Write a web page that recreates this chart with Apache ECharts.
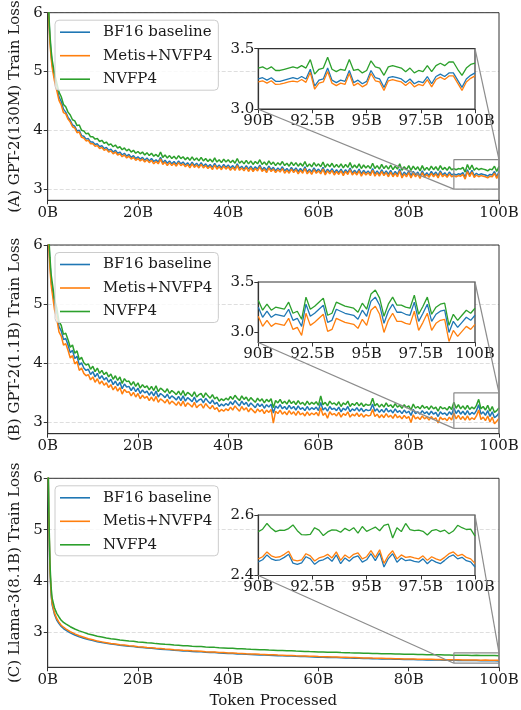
<!DOCTYPE html>
<html><head><meta charset="utf-8">
<script src="https://cdn.jsdelivr.net/npm/echarts@6/dist/echarts.min.js"></script>
<style>html,body{margin:0;padding:0;background:#fff}#c{width:521px;height:710px}</style>
</head><body><div id="c"></div>
<script>
// ---- data ----
const seriesNames = ['BF16 baseline', 'Metis+NVFP4', 'NVFP4'];
// token positions (billions) for panels A and B
const tokensAB = [0,0.25,0.5,0.75,1,1.5,2,2.5,3,3.5,
4,4.5,5,5.5,6,6.5,7,7.5,8,8.5, 9,9.5,10,10.5,11,11.5,12,12.5,13,13.5,
14,14.5,15,15.5,16,16.5,17,17.5,18,18.5, 19,19.5,20,20.5,21,21.5,22,22.5,23,23.5,
24,24.5,25,25.5,26,26.5,27,27.5,28,28.5, 29,29.5,30,30.5,31,31.5,32,32.5,33,33.5,
34,34.5,35,35.5,36,36.5,37,37.5,38,38.5, 39,39.5,40,40.5,41,41.5,42,42.5,43,43.5,
44,44.5,45,45.5,46,46.5,47,47.5,48,48.5, 49,49.5,50,50.5,51,51.5,52,52.5,53,53.5,
54,54.5,55,55.5,56,56.5,57,57.5,58,58.5, 59,59.5,60,60.5,61,61.5,62,62.5,63,63.5,
64,64.5,65,65.5,66,66.5,67,67.5,68,68.5, 69,69.5,70,70.5,71,71.5,72,72.5,73,73.5,
74,74.5,75,75.5,76,76.5,77,77.5,78,78.5, 79,79.5,80,80.5,81,81.5,82,82.5,83,83.5,
84,84.5,85,85.5,86,86.5,87,87.5,88,88.5, 89,89.5,90,90.5,91,91.5,92,92.5,93,93.5,
94,94.5,95,95.5,96,96.5,97,97.5,98,98.5, 99,99.5,100];
// token positions for panel C
const tokensC = [0,0.25,0.5,0.75,1,1.5,2,2.5,3,3.5,
4,5,6,7,8,9,10,11,12,13,14,15,16,17,18,19,20,21,22,23,24,25,26,27,28,29,30,31,32,33,
34,35,36,37,38,39,40,41,42,43,44,45,46,47,48,49,50,51,52,53,54,55,56,57,58,59,60,61,62,63,
64,65,66,67,68,69,70,71,72,73,74,75,76,77,78,79,80,81,82,83,84,85,86,87,88,89,90,91,92,93,
94,95,96,97,98,99,100];
const insetTokens = [90,90.2,90.4,90.6,90.8,91,91.2,91.4,91.6,91.8,92,92.2,92.4,92.6,92.8,93,93.2,93.4,93.6,93.8,
94,94.2,94.4,94.6,94.8,95,95.2,95.4,95.6,95.8,96,96.2,96.4,96.6,96.8,97,97.2,97.4,97.6,97.8,
98,98.2,98.4,98.6,98.8,99,99.2,99.4,99.6,99.8,100];
const xTickLabels = ['0B','20B','40B','60B','80B','100B'];
const mainYTicks = [3,4,5,6];

// (A) GPT-2(130M)
const a_bf16 = [6.60,5.92,5.55,5.30,5.12,4.90,4.74,4.57,4.49,4.36,
4.31,4.22,4.17,4.09,4.07,3.99,4.00,3.91,3.90,3.85,
3.86,3.80,3.80,3.76,3.77,3.72,3.74,3.69,3.71,3.66,
3.68,3.63,3.66,3.61,3.63,3.58,3.61,3.56,3.59,3.54,
3.57,3.52,3.55,3.51,3.54,3.49,3.53,3.48,3.52,3.47,
3.50,3.46,3.54,3.45,3.49,3.44,3.48,3.43,3.47,3.42,
3.48,3.43,3.46,3.41,3.45,3.40,3.46,3.40,3.44,3.39,
3.45,3.39,3.43,3.38,3.42,3.37,3.44,3.37,3.41,3.36,
3.42,3.37,3.41,3.36,3.40,3.35,3.43,3.35,3.39,3.34,
3.40,3.34,3.39,3.33,3.38,3.34,3.41,3.33,3.37,3.32,
3.39,3.33,3.37,3.31,3.36,3.32,3.38,3.31,3.35,3.30,
3.37,3.31,3.36,3.30,3.35,3.30,3.38,3.29,3.34,3.29,
3.36,3.30,3.34,3.29,3.37,3.28,3.34,3.29,3.35,3.28,
3.33,3.28,3.34,3.27,3.33,3.28,3.36,3.27,3.32,3.27,
3.34,3.26,3.32,3.27,3.31,3.26,3.35,3.26,3.31,3.25,
3.33,3.26,3.31,3.25,3.32,3.24,3.30,3.25,3.34,3.23,
3.29,3.24,3.31,3.23,3.30,3.24,3.29,3.22,3.31,3.23,
3.28,3.23,3.30,3.24,3.29,3.23,3.31,3.24,3.28,3.23,
3.29,3.24,3.26,3.24,3.26,3.25,3.28,3.20,3.33,3.24,
3.32,3.23,3.27,3.24,3.26,3.25,3.24,3.22,3.25,3.24,
3.30,3.21,3.30];
const a_metis = [6.55,5.86,5.49,5.24,5.06,4.84,4.68,4.51,4.43,4.30,
4.28,4.19,4.14,4.06,4.04,3.96,3.97,3.88,3.87,3.82,
3.83,3.77,3.77,3.73,3.74,3.69,3.71,3.66,3.68,3.63,
3.65,3.60,3.63,3.58,3.60,3.55,3.58,3.53,3.56,3.51,
3.54,3.49,3.52,3.48,3.51,3.46,3.50,3.45,3.49,3.43,
3.47,3.43,3.51,3.42,3.46,3.40,3.45,3.40,3.44,3.39,
3.45,3.40,3.43,3.38,3.42,3.36,3.43,3.37,3.41,3.36,
3.42,3.36,3.40,3.35,3.39,3.33,3.41,3.34,3.38,3.33,
3.39,3.34,3.38,3.32,3.37,3.32,3.40,3.32,3.36,3.31,
3.37,3.30,3.36,3.30,3.35,3.31,3.38,3.30,3.34,3.28,
3.36,3.30,3.34,3.28,3.33,3.29,3.35,3.27,3.32,3.27,
3.34,3.28,3.33,3.26,3.32,3.27,3.35,3.26,3.31,3.25,
3.33,3.27,3.31,3.26,3.34,3.24,3.31,3.26,3.32,3.24,
3.30,3.25,3.31,3.23,3.30,3.25,3.33,3.24,3.29,3.24,
3.31,3.22,3.29,3.24,3.28,3.23,3.32,3.22,3.28,3.22,
3.30,3.23,3.28,3.21,3.29,3.21,3.27,3.21,3.31,3.19,
3.26,3.21,3.28,3.19,3.27,3.21,3.26,3.18,3.28,3.20,
3.25,3.20,3.27,3.21,3.26,3.19,3.28,3.21,3.25,3.20,
3.26,3.21,3.23,3.21,3.23,3.22,3.25,3.17,3.30,3.21,
3.29,3.20,3.24,3.21,3.23,3.22,3.21,3.19,3.22,3.21,
3.27,3.18,3.27];
const a_nvfp4 = [6.65,5.98,5.62,5.37,5.19,4.97,4.81,4.65,4.57,4.44,
4.40,4.31,4.26,4.18,4.16,4.08,4.09,4.00,3.99,3.94,
3.95,3.89,3.89,3.85,3.86,3.81,3.83,3.78,3.80,3.75,
3.77,3.72,3.75,3.70,3.72,3.67,3.70,3.65,3.68,3.63,
3.66,3.61,3.64,3.60,3.63,3.58,3.62,3.57,3.61,3.56,
3.59,3.55,3.63,3.54,3.58,3.53,3.57,3.52,3.56,3.51,
3.57,3.52,3.55,3.50,3.54,3.49,3.55,3.49,3.53,3.48,
3.54,3.48,3.52,3.47,3.51,3.46,3.53,3.46,3.50,3.45,
3.51,3.46,3.50,3.45,3.49,3.44,3.52,3.44,3.48,3.43,
3.49,3.43,3.48,3.42,3.47,3.43,3.50,3.42,3.46,3.41,
3.48,3.42,3.46,3.40,3.45,3.41,3.47,3.40,3.44,3.39,
3.46,3.40,3.45,3.39,3.44,3.39,3.47,3.38,3.43,3.38,
3.45,3.39,3.43,3.38,3.46,3.37,3.43,3.38,3.44,3.37,
3.42,3.37,3.43,3.36,3.42,3.37,3.45,3.36,3.41,3.36,
3.43,3.35,3.41,3.36,3.40,3.35,3.44,3.35,3.40,3.34,
3.42,3.35,3.40,3.34,3.41,3.33,3.39,3.34,3.43,3.32,
3.38,3.33,3.40,3.32,3.39,3.33,3.38,3.31,3.40,3.32,
3.37,3.32,3.39,3.33,3.38,3.32,3.40,3.33,3.37,3.32,
3.38,3.33,3.35,3.33,3.35,3.34,3.37,3.29,3.42,3.33,
3.41,3.32,3.36,3.33,3.35,3.34,3.33,3.31,3.34,3.33,
3.39,3.30,3.39];
const a_inset_bf16 = [3.25,3.26,3.24,3.26,3.23,3.23,3.24,3.25,3.26,3.25,3.27,3.25,3.33,3.19,3.24,3.25,3.34,3.24,3.22,3.24,
3.23,3.32,3.22,3.24,3.21,3.23,3.32,3.26,3.25,3.18,3.26,3.27,3.26,3.25,3.22,3.25,3.21,3.23,3.22,3.27,
3.21,3.27,3.29,3.27,3.30,3.30,3.24,3.18,3.25,3.28,3.30];
const a_inset_metis = [3.225,3.235,3.215,3.235,3.205,3.208,3.215,3.225,3.232,3.225,3.245,3.222,3.305,3.165,3.215,3.225,3.312,3.215,3.195,3.215,
3.205,3.295,3.195,3.215,3.185,3.205,3.295,3.235,3.225,3.155,3.235,3.245,3.235,3.225,3.195,3.225,3.185,3.205,3.195,3.245,
3.185,3.245,3.265,3.245,3.275,3.275,3.215,3.155,3.225,3.255,3.275];
const a_inset_nvfp4 = [3.34,3.35,3.33,3.35,3.32,3.32,3.33,3.34,3.35,3.34,3.36,3.34,3.41,3.29,3.33,3.34,3.43,3.33,3.31,3.33,
3.32,3.41,3.32,3.33,3.30,3.32,3.40,3.35,3.34,3.28,3.35,3.36,3.35,3.34,3.31,3.34,3.30,3.32,3.31,3.36,
3.31,3.36,3.38,3.36,3.39,3.39,3.33,3.28,3.34,3.37,3.38];

// (B) GPT-2(1.1B)
const b_bf16 = [6.70,6.05,5.70,5.42,5.28,5.00,4.85,4.62,4.55,4.40,
4.42,4.31,4.18,4.22,4.08,4.12,3.97,4.01,3.92,3.88,
3.90,3.81,3.86,3.77,3.83,3.74,3.79,3.72,3.76,3.68,
3.73,3.64,3.70,3.62,3.68,3.57,3.65,3.60,3.61,3.54,
3.60,3.52,3.58,3.49,3.55,3.50,3.53,3.46,3.52,3.45,
3.53,3.43,3.49,3.46,3.42,3.48,3.40,3.45,3.42,3.38,
3.44,3.37,3.45,3.36,3.42,3.39,3.35,3.43,3.34,3.38,
3.40,3.33,3.41,3.36,3.32,3.38,3.31,3.34,3.27,3.31,
3.28,3.32,3.29,3.35,3.30,3.37,3.32,3.28,3.36,3.30,
3.34,3.27,3.33,3.29,3.25,3.32,3.27,3.31,3.24,3.30,
3.26,3.31,3.16,3.28,3.24,3.30,3.23,3.27,3.22,3.29,
3.23,3.27,3.21,3.28,3.22,3.25,3.20,3.27,3.21,3.25,
3.22,3.26,3.20,3.34,3.21,3.25,3.19,3.27,3.22,3.24,
3.20,3.26,3.18,3.24,3.21,3.27,3.18,3.23,3.20,3.25,
3.19,3.24,3.18,3.22,3.20,3.21,3.31,3.19,3.23,3.17,
3.22,3.17,3.24,3.18,3.21,3.16,3.23,3.17,3.20,3.15,
3.21,3.16,3.19,3.12,3.22,3.15,3.18,3.14,3.20,3.15,
3.18,3.13,3.19,3.14,3.17,3.10,3.18,3.14,3.16,3.12,
3.18,3.13,3.25,3.15,3.21,3.14,3.19,3.13,3.20,3.13,
3.17,3.14,3.20,3.30,3.14,3.18,3.12,3.20,3.10,3.18,
3.08,3.11,3.16];
const b_metis = [6.62,5.96,5.61,5.33,5.19,4.91,4.76,4.53,4.46,4.31,
4.33,4.22,4.09,4.13,3.99,4.03,3.88,3.92,3.83,3.79,
3.81,3.72,3.77,3.68,3.74,3.65,3.70,3.63,3.67,3.59,
3.64,3.55,3.61,3.53,3.59,3.48,3.56,3.51,3.52,3.45,
3.51,3.43,3.49,3.40,3.46,3.41,3.44,3.37,3.43,3.36,
3.44,3.34,3.40,3.37,3.33,3.39,3.31,3.36,3.33,3.29,
3.35,3.28,3.36,3.27,3.33,3.30,3.26,3.34,3.25,3.29,
3.31,3.24,3.32,3.27,3.23,3.29,3.22,3.25,3.18,3.22,
3.19,3.23,3.20,3.26,3.21,3.28,3.23,3.19,3.27,3.21,
3.25,3.18,3.24,3.20,3.16,3.23,3.18,3.22,3.15,3.21,
3.17,3.22,2.99,3.19,3.15,3.21,3.14,3.18,3.13,3.20,
3.14,3.18,3.12,3.19,3.13,3.16,3.11,3.18,3.12,3.16,
3.13,3.17,3.11,3.25,3.12,3.16,3.07,3.18,3.13,3.15,
3.11,3.17,3.09,3.15,3.12,3.18,3.09,3.14,3.11,3.16,
3.10,3.15,3.09,3.13,3.11,3.12,3.22,3.10,3.14,3.08,
3.13,3.08,3.15,3.09,3.12,3.07,3.14,3.08,3.11,3.06,
3.12,3.07,3.10,3.00,3.13,3.06,3.09,3.05,3.11,3.06,
3.09,3.04,3.10,3.05,3.08,2.99,3.09,3.05,3.07,3.03,
3.09,3.04,3.16,3.06,3.12,3.05,3.10,3.04,3.11,3.04,
3.08,3.05,3.11,3.21,3.05,3.09,3.03,3.11,3.01,3.09,
2.98,3.02,3.07];
const b_nvfp4 = [6.78,6.14,5.79,5.51,5.37,5.09,4.94,4.71,4.64,4.49,
4.51,4.40,4.27,4.31,4.17,4.21,4.06,4.10,4.01,3.97,
3.99,3.90,3.95,3.86,3.92,3.83,3.88,3.81,3.85,3.77,
3.82,3.73,3.79,3.71,3.77,3.66,3.74,3.69,3.70,3.63,
3.69,3.61,3.67,3.58,3.64,3.59,3.62,3.55,3.61,3.54,
3.62,3.52,3.58,3.55,3.51,3.57,3.49,3.54,3.51,3.47,
3.53,3.46,3.54,3.45,3.51,3.48,3.44,3.52,3.43,3.47,
3.49,3.42,3.50,3.45,3.41,3.47,3.40,3.43,3.36,3.40,
3.37,3.41,3.38,3.44,3.39,3.46,3.41,3.37,3.45,3.39,
3.43,3.36,3.42,3.38,3.34,3.41,3.36,3.40,3.33,3.39,
3.35,3.40,3.25,3.37,3.33,3.39,3.32,3.36,3.31,3.38,
3.32,3.36,3.30,3.37,3.31,3.34,3.29,3.36,3.30,3.34,
3.31,3.35,3.29,3.45,3.30,3.34,3.28,3.36,3.31,3.33,
3.29,3.35,3.27,3.33,3.30,3.36,3.27,3.32,3.29,3.34,
3.28,3.33,3.27,3.31,3.29,3.30,3.41,3.28,3.32,3.26,
3.31,3.26,3.33,3.27,3.30,3.25,3.32,3.26,3.29,3.24,
3.30,3.25,3.28,3.21,3.31,3.24,3.27,3.23,3.29,3.24,
3.27,3.22,3.28,3.23,3.26,3.19,3.27,3.23,3.25,3.21,
3.27,3.22,3.34,3.24,3.30,3.23,3.28,3.22,3.29,3.22,
3.26,3.23,3.29,3.39,3.23,3.27,3.21,3.29,3.19,3.27,
3.17,3.20,3.25];
const b_inset_bf16 = [3.25,3.15,3.21,3.15,3.18,3.17,3.16,3.23,3.12,3.14,3.06,3.28,3.16,3.19,3.23,3.27,3.10,3.12,3.23,3.21,
3.19,3.18,3.17,3.13,3.22,3.16,3.31,3.35,3.27,3.09,3.21,3.28,3.20,3.20,3.18,3.17,3.30,3.11,3.19,3.28,
3.11,3.18,3.21,3.22,3.00,3.11,3.05,3.10,3.15,3.12,3.17];
const b_inset_metis = [3.16,3.06,3.12,3.06,3.09,3.08,3.07,3.14,3.03,3.05,2.97,3.19,3.07,3.10,3.14,3.18,3.01,3.03,3.14,3.12,
3.10,3.09,3.08,3.04,3.13,3.07,3.22,3.26,3.18,3.00,3.12,3.19,3.11,3.11,3.09,3.08,3.21,3.02,3.10,3.19,
3.02,3.09,3.12,3.13,2.91,3.02,2.96,3.01,3.06,3.03,3.08];
const b_inset_nvfp4 = [3.32,3.22,3.28,3.22,3.25,3.24,3.23,3.30,3.19,3.21,3.13,3.35,3.23,3.26,3.30,3.34,3.17,3.19,3.30,3.28,
3.26,3.25,3.24,3.20,3.29,3.23,3.38,3.42,3.34,3.16,3.28,3.35,3.27,3.27,3.25,3.24,3.37,3.18,3.26,3.35,
3.18,3.25,3.28,3.29,3.07,3.18,3.12,3.17,3.22,3.19,3.24];

// (C) Llama-3(8.1B)
const c_bf16 = [6.88,5.20,4.20,3.74,3.53,3.35,3.24,3.17,3.115,3.075,
3.045,2.99,2.948,2.915,2.887,2.86,2.84,2.818,2.803,2.789,
2.774,2.764,2.749,2.741,2.729,2.724,2.711,2.704,2.694,2.689,
2.679,2.673,2.665,2.661,2.651,2.647,2.639,2.636,2.629,2.625,
2.621,2.613,2.609,2.606,2.599,2.595,2.589,2.587,2.581,2.579,
2.573,2.569,2.566,2.561,2.559,2.554,2.551,2.547,2.545,2.54,
2.538,2.533,2.531,2.528,2.524,2.522,2.518,2.516,2.513,2.51,
2.509,2.505,2.503,2.50,2.498,2.496,2.492,2.491,2.488,2.486,
2.484,2.481,2.48,2.477,2.476,2.473,2.472,2.47,2.468,2.467,
2.464,2.464,2.461,2.46,2.458,2.457,2.455,2.454,2.452,2.453,
2.45,2.451,2.448,2.449,2.447,2.448,2.444];
const c_metis = [6.90,5.25,4.25,3.78,3.56,3.38,3.27,3.20,3.14,3.10,
3.07,3.015,2.97,2.935,2.905,2.875,2.855,2.83,2.815,2.80,
2.785,2.775,2.76,2.752,2.74,2.735,2.722,2.715,2.705,2.70,
2.69,2.684,2.676,2.672,2.662,2.658,2.65,2.647,2.64,2.636,
2.632,2.624,2.62,2.617,2.61,2.606,2.60,2.598,2.592,2.59,
2.584,2.58,2.577,2.572,2.57,2.565,2.562,2.558,2.556,2.551,
2.549,2.544,2.542,2.539,2.535,2.533,2.529,2.527,2.524,2.521,
2.52,2.516,2.514,2.511,2.509,2.507,2.503,2.502,2.499,2.497,
2.495,2.492,2.491,2.488,2.487,2.484,2.483,2.481,2.479,2.478,
2.475,2.475,2.472,2.471,2.469,2.468,2.466,2.465,2.463,2.464,
2.461,2.462,2.459,2.46,2.458,2.459,2.455];
const c_nvfp4 = [6.95,5.35,4.35,3.88,3.66,3.48,3.37,3.30,3.235,3.195,
3.165,3.11,3.065,3.03,3.00,2.97,2.948,2.923,2.908,2.892,
2.878,2.866,2.853,2.843,2.832,2.826,2.813,2.806,2.796,2.791,
2.781,2.776,2.767,2.763,2.753,2.749,2.741,2.738,2.731,2.727,
2.723,2.715,2.711,2.708,2.701,2.697,2.691,2.689,2.683,2.681,
2.675,2.671,2.668,2.663,2.661,2.656,2.653,2.649,2.647,2.642,
2.64,2.635,2.633,2.63,2.626,2.624,2.62,2.618,2.615,2.612,
2.611,2.607,2.605,2.602,2.60,2.598,2.594,2.593,2.59,2.588,
2.586,2.583,2.582,2.579,2.578,2.575,2.574,2.572,2.57,2.569,
2.566,2.566,2.563,2.562,2.56,2.559,2.557,2.556,2.554,2.555,
2.552,2.553,2.55,2.551,2.549,2.55,2.546];
const c_inset_bf16 = [2.445,2.452,2.468,2.455,2.450,2.452,2.460,2.470,2.441,2.437,2.442,2.462,2.455,2.437,2.448,2.452,2.460,2.447,2.468,2.439,
2.458,2.447,2.460,2.465,2.444,2.452,2.472,2.449,2.475,2.428,2.456,2.472,2.444,2.458,2.449,2.452,2.447,2.444,2.455,2.439,
2.452,2.444,2.439,2.450,2.462,2.468,2.455,2.460,2.449,2.445,2.428];
const c_inset_metis = [2.455,2.462,2.478,2.465,2.460,2.462,2.470,2.480,2.452,2.448,2.452,2.472,2.465,2.448,2.458,2.462,2.470,2.458,2.478,2.450,
2.468,2.458,2.470,2.475,2.455,2.462,2.482,2.460,2.485,2.440,2.466,2.482,2.455,2.468,2.460,2.462,2.458,2.455,2.465,2.450,
2.462,2.455,2.450,2.460,2.472,2.478,2.465,2.470,2.460,2.455,2.440];
const c_inset_nvfp4 = [2.545,2.553,2.572,2.556,2.545,2.550,2.549,2.555,2.567,2.548,2.535,2.534,2.536,2.558,2.550,2.532,2.544,2.551,2.550,2.543,
2.556,2.548,2.558,2.540,2.562,2.546,2.553,2.560,2.548,2.566,2.570,2.524,2.558,2.545,2.572,2.552,2.548,2.550,2.546,2.534,
2.548,2.552,2.545,2.550,2.538,2.547,2.566,2.558,2.552,2.553,2.530];

// ---- layout / style ----
const FONT = 'DejaVu Serif';
const TXT = '#1a1a1a';
const FRAME = '#333333';
const COLORS = ['#1f77b4', '#ff7f0e', '#2ca02c'];
const panels = [
  { label: '(A) GPT-2(130M) Train Loss', top: 12.7, height: 187.6, yMin: 2.81, yMax: 6,
    insetTop: 48.7, insetY: [3.0, 3.5], insetTicks: [3.0, 3.5], tokens: tokensAB,
    main: [a_bf16, a_metis, a_nvfp4], inset: [a_inset_bf16, a_inset_metis, a_inset_nvfp4] },
  { label: '(B) GPT-2(1.1B) Train Loss', top: 245, height: 188.7, yMin: 2.81, yMax: 6,
    insetTop: 282, insetY: [2.9, 3.5], insetTicks: [3.0, 3.5], tokens: tokensAB,
    main: [b_bf16, b_metis, b_nvfp4], inset: [b_inset_bf16, b_inset_metis, b_inset_nvfp4] },
  { label: '(C) Llama-3(8.1B) Train Loss', top: 478.3, height: 189, yMin: 2.32, yMax: 6,
    insetTop: 515, insetY: [2.4, 2.6], insetTicks: [2.4, 2.6], tokens: tokensC,
    main: [c_bf16, c_metis, c_nvfp4], inset: [c_inset_bf16, c_inset_metis, c_inset_nvfp4] }
];
const MAIN_LEFT = 47.7, MAIN_W = 451.3;
const INSET_LEFT = 258.3, INSET_W = 216.7, INSET_H = 60.5;

const zip = (xs, ys) => xs.map((x, i) => [x, ys[i]]);
const labelStyle = { fontFamily: FONT, fontSize: 15, color: TXT };

const grid = [], xAxis = [], yAxis = [], series = [], legend = [];
panels.forEach((p, pi) => {
  const gMain = pi * 2, gIn = pi * 2 + 1;
  grid.push({ left: MAIN_LEFT, top: p.top, width: MAIN_W, height: p.height, show: true,
    borderColor: FRAME, borderWidth: 1, backgroundColor: 'transparent', outerBoundsMode: 'none', containLabel: false, z: 1 });
  grid.push({ left: INSET_LEFT, top: p.insetTop, width: INSET_W, height: INSET_H, show: true,
    borderColor: FRAME, borderWidth: 1.2, backgroundColor: '#ffffff', outerBoundsMode: 'none', containLabel: false, z: 1 });

  xAxis.push(Object.assign({
    type: 'value', gridIndex: gMain, min: 0, max: 100, interval: 20,
    axisLine: { show: true, onZero: false, lineStyle: { color: FRAME, width: 1 } },
    axisTick: { show: true, length: 4, lineStyle: { color: FRAME } },
    axisLabel: Object.assign({ margin: 5, formatter: v => xTickLabels[Math.round(v / 20)] }, labelStyle),
    splitLine: { show: false }
  }, pi === 2 ? { name: 'Token Processed', nameLocation: 'middle', nameGap: 26,
    nameTextStyle: labelStyle } : {}));
  xAxis.push({
    type: 'value', gridIndex: gIn, min: 90, max: 100, interval: 2.5, z: 2,
    axisLine: { show: true, onZero: false, lineStyle: { color: FRAME, width: 1.2 } },
    axisTick: { show: true, length: 4, lineStyle: { color: FRAME } },
    axisLabel: Object.assign({ margin: 4, formatter: v => v + 'B' }, labelStyle),
    splitLine: { show: false }
  });
  yAxis.push({
    type: 'value', gridIndex: gMain, min: p.yMin, max: p.yMax,
    axisLine: { show: true, onZero: false, lineStyle: { color: FRAME, width: 1 } },
    axisTick: { show: true, length: 4, customValues: mainYTicks, lineStyle: { color: FRAME } },
    axisLabel: Object.assign({ margin: 5, customValues: mainYTicks, formatter: v => String(Math.round(v)) }, labelStyle),
    splitLine: { show: true, lineStyle: { color: '#dedede', width: 1, type: [4, 2] } },
    name: p.label, nameLocation: 'middle', nameRotate: 90, nameGap: 23, nameTextStyle: labelStyle
  });
  yAxis.push({
    type: 'value', gridIndex: gIn, min: p.insetY[0], max: p.insetY[1], z: 2,
    axisLine: { show: true, onZero: false, lineStyle: { color: FRAME, width: 1.2 } },
    axisTick: { show: true, length: 4, customValues: p.insetTicks, lineStyle: { color: FRAME } },
    axisLabel: Object.assign({ margin: 4, customValues: p.insetTicks, formatter: v => v.toFixed(1) }, labelStyle),
    splitLine: { show: false }
  });

  seriesNames.forEach((nm, si) => {
    series.push({ type: 'line', name: nm, xAxisIndex: gMain, yAxisIndex: gMain,
      data: zip(p.tokens, p.main[si]), symbol: 'none', showSymbol: false, clip: true,
      lineStyle: { color: COLORS[si], width: 1.5 }, itemStyle: { color: COLORS[si] }, z: 2 });
  });
  seriesNames.forEach((nm, si) => {
    series.push({ type: 'line', name: nm, xAxisIndex: gIn, yAxisIndex: gIn,
      data: zip(insetTokens, p.inset[si]), symbol: 'none', showSymbol: false, clip: true,
      lineStyle: { color: COLORS[si], width: 1.3 }, itemStyle: { color: COLORS[si] }, z: 3 });
  });
  // zoom rectangle in main axes (inset range)
  const x0 = insetTokens[0], x1 = insetTokens[insetTokens.length - 1];
  series.push({ type: 'line', name: 'zoom' + pi, xAxisIndex: gMain, yAxisIndex: gMain, silent: true,
    data: [[x0, p.insetY[0]], [x1, p.insetY[0]], [x1, p.insetY[1]], [x0, p.insetY[1]], [x0, p.insetY[0]]],
    symbol: 'none', clip: false, lineStyle: { color: '#8c8c8c', width: 1.2 }, z: 4 });

  legend.push({
    orient: 'vertical', left: 55, top: p.top + 7.5, data: seriesNames, selectedMode: false,
    icon: 'rect', itemWidth: 30, itemHeight: 1.6, itemGap: 5.5, padding: [3, 6, 2, 5],
    backgroundColor: 'rgba(255,255,255,0.8)', borderColor: '#cccccc', borderWidth: 1, borderRadius: 4,
    textStyle: { fontFamily: FONT, fontSize: 15, color: TXT, lineHeight: 18, padding: [0, 0, 0, 8] }, z: 5
  });
});

const chart = echarts.init(document.getElementById('c'), null, { renderer: 'canvas' });
chart.setOption({ animation: false, backgroundColor: '#ffffff', grid, xAxis, yAxis, series, legend });

// connector lines between inset and zoom rectangle
const graphics = [];
panels.forEach((p, pi) => {
  const gMain = pi * 2, gIn = pi * 2 + 1;
  const x0 = insetTokens[0], x1 = insetTokens[insetTokens.length - 1];
  const a1 = chart.convertToPixel({ gridIndex: gIn }, [x0, p.insetY[0]]);
  const a2 = chart.convertToPixel({ gridIndex: gMain }, [x0, p.insetY[0]]);
  const b1 = chart.convertToPixel({ gridIndex: gIn }, [x1, p.insetY[1]]);
  const b2 = chart.convertToPixel({ gridIndex: gMain }, [x1, p.insetY[1]]);
  [[a1, a2], [b1, b2]].forEach(([s, e]) => graphics.push({ type: 'line', silent: true, z: 10,
    shape: { x1: s[0], y1: s[1], x2: e[0], y2: e[1] }, style: { stroke: '#8c8c8c', lineWidth: 1.2 } }));
});
chart.setOption({ graphic: graphics });
</script></body></html>
